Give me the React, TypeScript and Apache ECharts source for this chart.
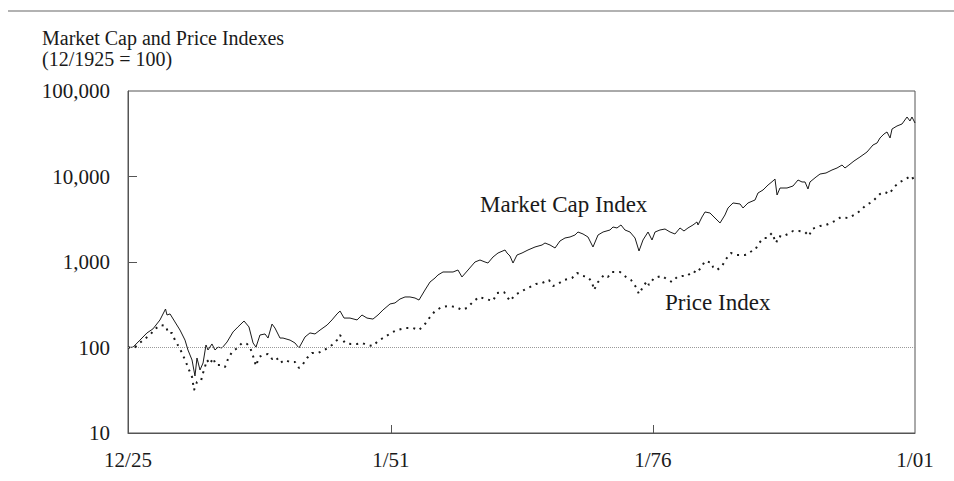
import React, { useEffect, useRef } from "react";
import * as echarts from "echarts";

const titleLines = ["Market Cap and Price Indexes", "(12/1925 = 100)"];
const seriesNames = ["Market Cap Index", "Price Index"];

const xTickValues = [1925.92, 1951.0, 1976.0, 2001.0];
const xTickLabels = ["12/25", "1/51", "1/76", "1/01"];
const yTickValues = [10, 100, 1000, 10000, 100000];

const capDates = [
  1925.92, 1926.4, 1927.06, 1927.73, 1928.3, 1928.97, 1929.5, 1929.64, 1929.93, 1930.4,
  1930.88, 1931.36, 1931.64, 1932.03, 1932.31, 1932.5, 1932.79, 1933.08, 1933.36, 1933.55,
  1933.93, 1934.22, 1934.51, 1934.89, 1935.37, 1935.94, 1936.41, 1936.99, 1937.46, 1937.85,
  1938.13, 1938.51, 1938.99, 1939.28, 1939.66, 1939.94, 1940.42, 1940.71, 1941.38, 1941.85,
  1942.23, 1942.81, 1943.28, 1943.76, 1944.24, 1944.91, 1945.38, 1945.86, 1946.15, 1946.53,
  1947.1, 1947.77, 1948.24, 1948.72, 1949.29, 1949.77, 1950.25, 1950.92, 1951.39, 1951.87,
  1952.35, 1952.82, 1953.3, 1953.68, 1954.25, 1954.73, 1955.21, 1955.49, 1955.97, 1956.45,
  1956.93, 1957.4, 1957.78, 1958.36, 1959.02, 1959.5, 1959.98, 1960.26, 1960.74, 1961.22,
  1961.89, 1962.08, 1962.36, 1962.65, 1963.03, 1963.51, 1964.08, 1964.75, 1965.42, 1965.7,
  1966.18, 1966.66, 1967.13, 1967.61, 1968.09, 1968.56, 1968.85, 1969.33, 1969.8, 1970.28,
  1970.76, 1971.24, 1971.9, 1972.19, 1972.57, 1972.95, 1973.33, 1973.81, 1974.29, 1974.67,
  1975.05, 1975.53, 1975.91, 1976.2, 1976.67, 1977.15, 1977.63, 1978.1, 1978.58, 1978.96,
  1979.34, 1979.82, 1980.2, 1980.3, 1980.68, 1980.97, 1981.44, 1981.92, 1982.4, 1982.87,
  1983.16, 1983.64, 1984.31, 1984.59, 1985.07, 1985.74, 1986.02, 1986.5, 1986.98, 1987.45,
  1987.64, 1987.84, 1988.12, 1988.79, 1989.36, 1989.84, 1990.22, 1990.51, 1990.79, 1990.98,
  1991.56, 1991.94, 1992.51, 1993.08, 1993.56, 1994.04, 1994.32, 1994.7, 1995.18, 1995.75,
  1996.42, 1996.99, 1997.38, 1997.66, 1998.04, 1998.33, 1998.62, 1998.81, 1999.28, 1999.76,
  2000.24, 2000.52, 2000.71, 2001.0,
];
const capValues = [
  100, 101, 122, 148, 165, 210, 282, 240, 247, 199,
  160, 122, 93.5, 71.4, 46.4, 75.4, 54.6, 65.9, 107, 93.5,
  110, 93.5, 101, 98.7, 116, 152, 174, 204, 174, 113,
  101, 140, 144, 129, 188, 169, 129, 129, 122, 113,
  98.7, 133, 148, 144, 160, 183, 210, 247, 267, 221,
  221, 210, 240, 221, 215, 240, 275, 323, 332, 369,
  390, 390, 379, 359, 470, 583, 650, 705, 764, 764,
  764, 806, 668, 806, 1000, 1055, 1000, 973, 1144, 1274,
  1382, 1274, 1175, 973, 1207, 1274, 1382, 1498, 1581, 1668,
  1581, 1458, 1761, 1909, 1961, 2069, 2243, 2126, 1961, 1498,
  2069, 2243, 2368, 2567, 2500, 2710, 2368, 2243, 1909, 1345,
  1809, 2243, 1809, 2243, 2368, 2432, 2243, 2126, 2500, 2305,
  2500, 2710, 2938, 2710, 3360, 3846, 3743, 3270, 2860, 3548,
  4284, 4903, 4769, 4284, 4903, 5313, 6411, 6951, 7953, 8859,
  9349, 6075, 7336, 7336, 7741, 9100, 8627, 8627, 7142, 8627,
  9867, 10690, 10990, 11910, 12570, 13630, 12570, 13630, 15180, 16900,
  19340, 23350, 24650, 28210, 31420, 33150, 28210, 35940, 38960, 41120,
  49660, 44590, 49660, 42250,
];

const priceDates = [
  1925.92, 1926.59, 1927.35, 1928.02, 1928.5, 1929.07, 1929.55, 1929.74, 1930.12, 1930.4,
  1930.79, 1931.07, 1931.36, 1931.64, 1931.93, 1932.03, 1932.22, 1932.5, 1932.88, 1933.08,
  1933.46, 1933.74, 1934.03, 1934.32, 1934.7, 1935.17, 1935.46, 1935.84, 1936.22, 1936.8,
  1937.27, 1937.56, 1937.85, 1938.13, 1938.42, 1938.8, 1939.28, 1939.66, 1940.04, 1940.42,
  1940.9, 1941.38, 1941.85, 1942.23, 1942.62, 1943.0, 1943.47, 1944.05, 1944.81, 1945.38,
  1945.86, 1946.15, 1946.62, 1947.19, 1947.77, 1948.24, 1948.72, 1949.29, 1949.77, 1950.44,
  1951.01, 1951.58, 1952.35, 1953.11, 1953.68, 1954.25, 1954.73, 1955.21, 1955.88, 1956.54,
  1957.21, 1957.78, 1958.26, 1958.83, 1959.41, 1960.07, 1960.74, 1961.12, 1961.79, 1962.36,
  1962.84, 1963.51, 1964.08, 1964.84, 1965.42, 1966.08, 1966.47, 1966.94, 1967.51, 1968.28,
  1968.76, 1969.33, 1969.8, 1970.19, 1970.38, 1970.76, 1971.33, 1971.71, 1972.09, 1972.86,
  1973.43, 1973.91, 1974.38, 1974.67, 1975.05, 1975.43, 1975.62, 1976.1, 1976.86, 1977.44,
  1977.82, 1978.3, 1978.77, 1979.25, 1979.82, 1980.2, 1980.68, 1980.97, 1981.63, 1981.73,
  1982.11, 1982.59, 1982.97, 1983.45, 1984.02, 1984.78, 1985.45, 1985.74, 1986.12, 1986.59,
  1986.88, 1987.36, 1987.74, 1988.03, 1988.31, 1988.88, 1989.36, 1989.93, 1990.51, 1990.89,
  1991.17, 1991.94, 1992.51, 1993.37, 1993.94, 1994.61, 1995.37, 1995.75, 1996.33, 1996.9,
  1997.38, 1997.66, 1998.14, 1998.52, 1998.81, 1999.09, 1999.57, 1999.95, 2000.43, 2000.71,
  2000.9,
];
const priceValues = [
  100, 101, 122, 140, 165, 183, 178, 148, 148, 122,
  101, 86.2, 71.4, 59.1, 47.7, 45.2, 31.8, 39.5, 40.6, 50.3,
  71.4, 64.1, 75.4, 62.4, 62.4, 59.1, 73.4, 88.6, 96.0, 113,
  110, 101, 79.5, 60.8, 77.4, 81.7, 83.9, 73.4, 77.4, 65.9,
  71.4, 67.7, 67.7, 57.6, 64.1, 75.4, 86.2, 86.2, 96.0, 107,
  122, 140, 113, 110, 110, 113, 107, 104, 119, 133,
  148, 160, 169, 169, 160, 188, 227, 267, 298, 306,
  298, 275, 290, 341, 390, 369, 350, 434, 446, 350,
  411, 458, 497, 553, 568, 616, 524, 553, 616, 650,
  744, 686, 668, 583, 470, 583, 705, 668, 764, 764,
  668, 616, 510, 422, 510, 600, 538, 650, 686, 616,
  583, 668, 686, 686, 785, 744, 898, 1027, 973, 874,
  806, 898, 1084, 1274, 1207, 1207, 1345, 1382, 1668, 1909,
  1909, 2184, 1668, 2014, 1961, 2126, 2305, 2305, 2243, 2014,
  2432, 2635, 2710, 3017, 3360, 3270, 3646, 3951, 4642, 5037,
  5760, 6247, 6585, 6247, 6951, 7741, 8627, 9100, 9867, 10140,
  8859,
];

const FONT = "'Liberation Serif', 'DejaVu Serif', serif";
const INK = "#1a1a1a";
const FRAME = "#555555";

function zip(xs: number[], ys: number[]) {
  return xs.map((x, i) => [x, ys[i]]);
}

export default function App() {
  const ref = useRef<HTMLDivElement>(null);

  useEffect(() => {
    if (!ref.current) return;
    const chart = echarts.init(ref.current, undefined, { renderer: "svg" });
    chart.setOption({
      animation: false,
      backgroundColor: "#ffffff",
      grid: {
        left: 128,
        right: 39,
        top: 91,
        bottom: 48,
        show: true,
        borderColor: FRAME,
        borderWidth: 1,
        backgroundColor: "transparent",
      },
      graphic: [
        {
          type: "line",
          shape: { x1: 8, y1: 11, x2: 954, y2: 11 },
          style: { stroke: "#666666", lineWidth: 1.2 },
          silent: true,
        },
        {
          type: "text",
          x: 42,
          y: 38,
          style: {
            text: titleLines[0],
            font: `20px ${FONT}`,
            fill: INK,
            verticalAlign: "middle",
            align: "left",
          },
        },
        {
          type: "text",
          x: 42,
          y: 59,
          style: {
            text: titleLines[1],
            font: `20px ${FONT}`,
            fill: INK,
            verticalAlign: "middle",
            align: "left",
          },
        },
        {
          type: "text",
          x: 480,
          y: 204,
          style: {
            text: seriesNames[0],
            font: `23px ${FONT}`,
            fill: INK,
            verticalAlign: "middle",
            align: "left",
          },
        },
        {
          type: "text",
          x: 665,
          y: 302,
          style: {
            text: seriesNames[1],
            font: `23px ${FONT}`,
            fill: INK,
            verticalAlign: "middle",
            align: "left",
          },
        },
      ],
      xAxis: {
        type: "value",
        min: xTickValues[0],
        max: xTickValues[xTickValues.length - 1],
        axisLine: { show: true, onZero: false, lineStyle: { color: FRAME, width: 1 } },
        axisTick: {
          show: true,
          inside: true,
          length: 8,
          customValues: xTickValues.slice(1, -1),
          lineStyle: { color: FRAME, width: 1 },
        },
        axisLabel: {
          show: true,
          customValues: xTickValues,
          margin: 16,
          fontFamily: FONT,
          fontSize: 21,
          color: INK,
          formatter: (v: number) => {
            let best = 0;
            xTickValues.forEach((t, i) => {
              if (Math.abs(t - v) < Math.abs(xTickValues[best] - v)) best = i;
            });
            return xTickLabels[best];
          },
        },
        splitLine: { show: false },
      },
      yAxis: {
        type: "log",
        logBase: 10,
        min: yTickValues[0],
        max: yTickValues[yTickValues.length - 1],
        axisLine: { show: true, lineStyle: { color: FRAME, width: 1 } },
        axisTick: {
          show: true,
          inside: true,
          length: 9,
          customValues: [yTickValues[2], yTickValues[3]],
          lineStyle: { color: FRAME, width: 1 },
        },
        axisLabel: {
          show: true,
          margin: 18,
          fontFamily: FONT,
          fontSize: 21,
          color: INK,
          formatter: (v: number) => Math.round(v).toLocaleString("en-US"),
        },
        splitLine: { show: false },
      },
      series: [
        {
          name: seriesNames[0],
          type: "line",
          data: zip(capDates, capValues),
          showSymbol: false,
          symbol: "none",
          lineStyle: { color: INK, width: 1 },
          silent: true,
          z: 3,
          markLine: {
            silent: true,
            symbol: "none",
            label: { show: false },
            lineStyle: { type: "dotted", color: "#9a9a9a", width: 1 },
            data: [{ yAxis: 100 }],
          },
        },
        {
          name: seriesNames[1],
          type: "line",
          data: zip(priceDates, priceValues),
          showSymbol: false,
          symbol: "none",
          lineStyle: { color: INK, width: 2, type: [2, 5], cap: "butt" },
          silent: true,
          z: 3,
        },
      ],
    });
    return () => chart.dispose();
  }, []);

  return (
    <div
      ref={ref}
      style={{ position: "fixed", left: 0, top: 0, width: 954, height: 481, background: "#fff" }}
    />
  );
}
